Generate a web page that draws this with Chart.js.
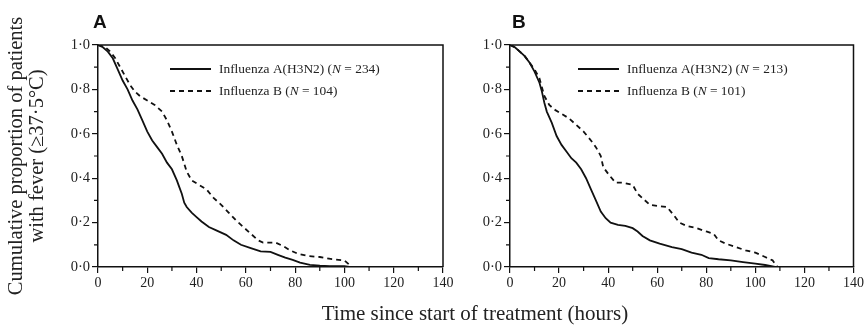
<!DOCTYPE html>
<html>
<head>
<meta charset="utf-8">
<script src="https://cdn.jsdelivr.net/npm/chart.js@4.4.0/dist/chart.umd.min.js"></script>
<style>
    body { margin: 0; background: #fff; }
    #wrap { position: relative; width: 866px; height: 329px; overflow: hidden; }
    canvas { position: absolute; top: 0; }
    #chartA { left: 0; }
    #chartB { left: 460px; }
    .letter { position: absolute; font-family: 'Liberation Sans', Arial, sans-serif; font-weight: bold; font-size: 19px; color: #111; }
    #xtitle { position: absolute; left: 0; width: 950px; top: 301px; text-align: center; font-family: 'Liberation Serif', serif; font-size: 21px; color: #222; }
</style>
</head>
<body>
<div id="wrap">
    <canvas id="chartA" width="460" height="329"></canvas>
    <canvas id="chartB" width="406" height="329"></canvas>
    <div class="letter" style="left:93px;top:11px;">A</div>
    <div class="letter" style="left:512px;top:11px;">B</div>
    <div id="xtitle">Time since start of treatment (hours)</div>
</div>
<script>
// tick labels
var xTicks = [0, 20, 40, 60, 80, 100, 120, 140];
var yTickLabels = ['0·0', '0·2', '0·4', '0·6', '0·8', '1·0'];
var yTitle = ['Cumulative proportion of patients', 'with fever (\u226537·5°C)'];

// panel A - influenza A(H3N2), N = 234
var timeA1 = [0, 2, 4, 6, 8, 10, 12, 14, 16, 18, 20, 22, 24, 26, 28, 30, 32, 33, 34, 35, 36, 38, 40, 42, 45, 48, 52, 55, 58, 62, 66, 70, 73, 76, 79, 82, 86, 90, 94, 100, 102];
var propA1 = [1.0, 0.99, 0.97, 0.94, 0.89, 0.84, 0.80, 0.75, 0.71, 0.66, 0.61, 0.57, 0.54, 0.51, 0.47, 0.44, 0.39, 0.36, 0.33, 0.29, 0.27, 0.245, 0.225, 0.205, 0.18, 0.165, 0.145, 0.12, 0.10, 0.085, 0.07, 0.068, 0.055, 0.042, 0.032, 0.02, 0.01, 0.006, 0.004, 0.004, 0];
// panel A - influenza B, N = 104
var timeA2 = [0, 3, 5, 7, 9, 11, 13, 15, 17, 20, 23, 26, 28, 30, 32, 34, 36, 38, 41, 44, 47, 50, 53, 56, 59, 62, 65, 67, 72, 75, 78, 81, 85, 90, 95, 100, 103];
var propA2 = [1.0, 0.99, 0.97, 0.94, 0.90, 0.86, 0.82, 0.79, 0.77, 0.75, 0.73, 0.70, 0.66, 0.61, 0.55, 0.50, 0.43, 0.39, 0.37, 0.35, 0.31, 0.28, 0.245, 0.21, 0.18, 0.15, 0.12, 0.11, 0.11, 0.095, 0.075, 0.06, 0.05, 0.045, 0.035, 0.03, 0];

// panel B - influenza A(H3N2), N = 213
var timeB1 = [0, 2, 4, 6, 8, 10, 12, 13, 14, 15, 17, 19, 21, 23, 25, 27, 29, 31, 33, 35, 37, 39, 41, 44, 47, 50, 52, 54, 57, 61, 66, 70, 74, 78, 81, 85, 90, 95, 100, 104, 108];
var propB1 = [1.0, 0.99, 0.97, 0.95, 0.92, 0.88, 0.83, 0.79, 0.74, 0.70, 0.65, 0.59, 0.55, 0.52, 0.49, 0.47, 0.44, 0.40, 0.35, 0.30, 0.25, 0.22, 0.20, 0.19, 0.185, 0.175, 0.16, 0.14, 0.12, 0.105, 0.09, 0.08, 0.065, 0.055, 0.04, 0.035, 0.03, 0.022, 0.015, 0.009, 0];
// panel B - influenza B, N = 101
var timeB2 = [0, 2, 4, 6, 8, 10, 12, 13, 14, 16, 18, 21, 24, 27, 30, 33, 35, 37, 38, 40, 43, 46, 50, 52, 54, 57, 60, 64, 67, 69, 72, 76, 80, 83, 85, 88, 92, 96, 100, 104, 107, 109];
var propB2 = [1.0, 0.99, 0.97, 0.95, 0.92, 0.89, 0.85, 0.81, 0.77, 0.73, 0.71, 0.69, 0.67, 0.64, 0.61, 0.57, 0.54, 0.50, 0.45, 0.42, 0.38, 0.38, 0.37, 0.33, 0.31, 0.28, 0.275, 0.27, 0.23, 0.20, 0.185, 0.175, 0.16, 0.15, 0.12, 0.105, 0.09, 0.075, 0.065, 0.045, 0.03, 0];

var serif = "'Liberation Serif', 'Times New Roman', serif";

function toPoints(t, p) {
    var pts = [];
    for (let i = 0; i < t.length; i++) {
        pts.push({ x: t[i], y: p[i] });
    }
    return pts;
}

// box round the plot + minor ticks
var framePlugin = {
    id: 'frame',
    afterDraw(chart) {
        var ctx = chart.ctx, a = chart.chartArea;
        var xs = chart.scales.x, ys = chart.scales.y;
        ctx.save();
        ctx.strokeStyle = '#111';
        ctx.lineWidth = 1.5;
        ctx.beginPath();
        ctx.moveTo(a.left, a.top);
        ctx.lineTo(a.right, a.top);
        ctx.lineTo(a.right, a.bottom);
        ctx.stroke();
        ctx.lineWidth = 1.2;
        ctx.beginPath();
        for (let v = 10; v < 140; v += 20) {
            var px = xs.getPixelForValue(v);
            ctx.moveTo(px, a.bottom);
            ctx.lineTo(px, a.bottom + 4);
        }
        for (let v = 0.1; v < 1; v += 0.2) {
            var py = ys.getPixelForValue(v);
            ctx.moveTo(a.left, py);
            ctx.lineTo(a.left - 4, py);
        }
        ctx.stroke();
        ctx.restore();
    }
};

// legend drawn inside the plot area
var keyPlugin = {
    id: 'key',
    afterDraw(chart, args, opts) {
        var ctx = chart.ctx, a = chart.chartArea;
        var x0 = a.left + opts.dx;
        ctx.save();
        ctx.fillStyle = '#222';
        ctx.textBaseline = 'middle';
        opts.rows.forEach(function (row, i) {
            var y = a.top + opts.dy + i * 22;
            ctx.strokeStyle = '#111';
            ctx.lineWidth = 1.8;
            ctx.setLineDash(row.dash);
            ctx.beginPath();
            ctx.moveTo(x0, y);
            ctx.lineTo(x0 + 41, y);
            ctx.stroke();
            ctx.setLineDash([]);
            var tx = x0 + 49;
            row.parts.forEach(function (part) {
                ctx.font = (part.it ? 'italic ' : '') + '13.4px ' + serif;
                ctx.fillText(part.s, tx, y);
                tx += ctx.measureText(part.s).width;
            });
        });
        ctx.restore();
    }
};

function makePanel(id, t1, p1, t2, p2, n1, n2, yWidth, showTitle) {
    var ctx = document.getElementById(id).getContext('2d');
    return new Chart(ctx, {
        type: 'line',
        data: {
            datasets: [{
                data: toPoints(t1, p1),
                borderColor: '#111',
                borderWidth: 1.8,
                pointRadius: 0,
                tension: 0
            }, {
                data: toPoints(t2, p2),
                borderColor: '#111',
                borderWidth: 1.8,
                borderDash: [5, 4],
                pointRadius: 0,
                tension: 0
            }]
        },
        options: {
            responsive: false,
            animation: false,
            layout: {
                padding: { left: 0, top: 45, right: id === 'chartA' ? 17 : 11, bottom: 32 }
            },
            plugins: {
                legend: { display: false },
                tooltip: { enabled: false },
                key: {
                    dx: id === 'chartA' ? 72 : 68,
                    dy: 24,
                    rows: [
                        { dash: [], parts: [{ s: 'Influenza A(H3N2) (' }, { s: 'N', it: true }, { s: ' = ' + n1 + ')' }] },
                        { dash: [5, 4], parts: [{ s: 'Influenza B (' }, { s: 'N', it: true }, { s: ' = ' + n2 + ')' }] }
                    ]
                }
            },
            scales: {
                x: {
                    type: 'linear',
                    min: 0,
                    max: 140,
                    afterBuildTicks(scale) {
                        scale.ticks = xTicks.map(v => ({ value: v }));
                    },
                    afterFit(scale) { scale.height = 30; },
                    ticks: {
                        font: { family: serif, size: 14 },
                        color: '#222',
                        padding: 2,
                        maxRotation: 0
                    },
                    grid: { drawOnChartArea: false, tickLength: 6, color: '#111', lineWidth: 1.2 },
                    border: { display: true, color: '#111', width: 1.5 }
                },
                y: {
                    min: 0,
                    max: 1,
                    afterBuildTicks(scale) {
                        scale.ticks = yTickLabels.map((s, i) => ({ value: i * 0.2 }));
                    },
                    afterFit(scale) { scale.width = yWidth; },
                    ticks: {
                        font: { family: serif, size: 14.5 },
                        color: '#222',
                        padding: 2,
                        callback: function (value, index) { return yTickLabels[index]; }
                    },
                    grid: { drawOnChartArea: false, tickLength: 6, color: '#111', lineWidth: 1.2 },
                    border: { display: true, color: '#111', width: 1.5 },
                    title: {
                        display: showTitle,
                        text: yTitle,
                        font: { family: serif, size: 20.5, lineHeight: 1.03 },
                        color: '#222',
                        padding: { top: 6, bottom: 4 }
                    }
                }
            }
        },
        plugins: [framePlugin, keyPlugin]
    });
}

makePanel('chartA', timeA1, propA1, timeA2, propA2, 234, 104, 98, true);
makePanel('chartB', timeB1, propB1, timeB2, propB2, 213, 101, 50, false);
</script>
</body>
</html>
